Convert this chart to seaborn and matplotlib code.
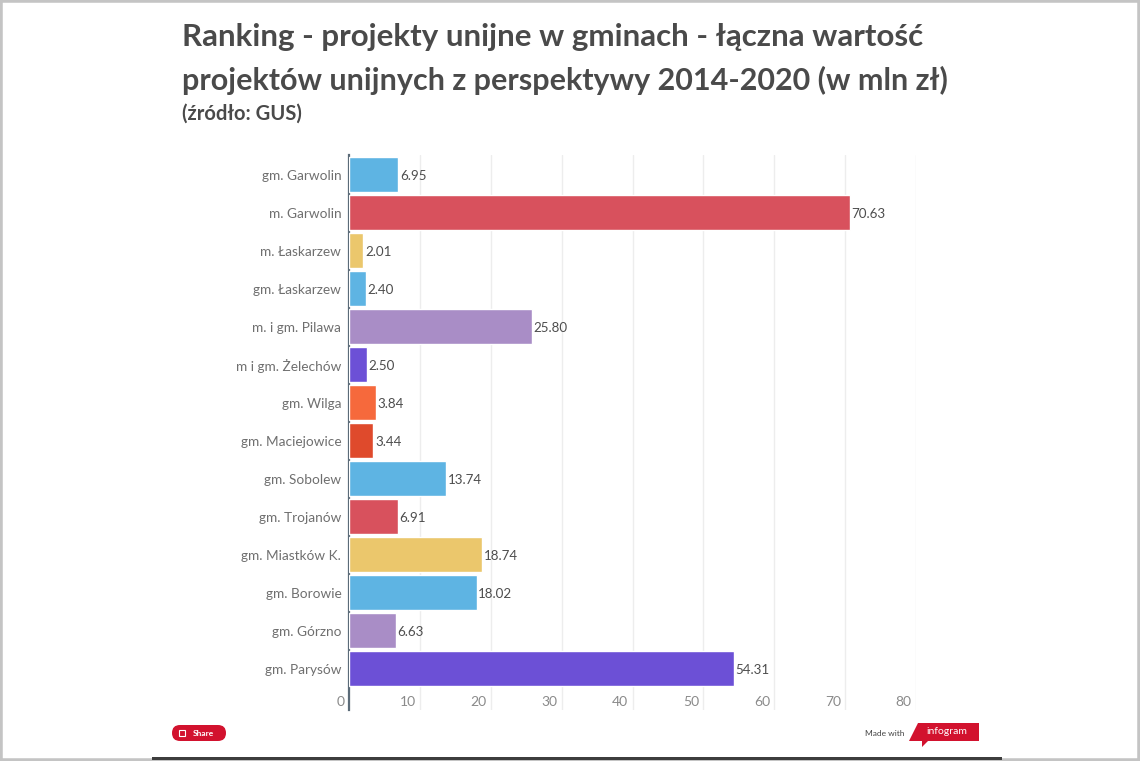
import matplotlib
matplotlib.use("Agg")
from matplotlib import pyplot as plt
from matplotlib.patches import FancyBboxPatch, Polygon, Rectangle
import seaborn as sns
import pandas as pd

gminy = [
    "gm. Garwolin", "m. Garwolin", "m. Łaskarzew", "gm. Łaskarzew",
    "m. i gm. Pilawa", "m i gm. Żelechów", "gm. Wilga", "gm. Maciejowice",
    "gm. Sobolew", "gm. Trojanów", "gm. Miastków K.", "gm. Borowie",
    "gm. Górzno", "gm. Parysów",
]
wartosci = [6.95, 70.63, 2.01, 2.40, 25.80, 2.50, 3.84, 3.44, 13.74, 6.91,
            18.74, 18.02, 6.63, 54.31]
kolory = [
    "#5eb4e3", "#d8515d", "#ebc76c", "#5eb4e3", "#a98dc6", "#6c50d6", "#f6693c",
    "#df4a2c", "#5eb4e3", "#d8515d", "#ebc76c", "#5eb4e3", "#a98dc6", "#6c50d6",
]
ticks = [0, 10, 20, 30, 40, 50, 60, 70, 80]

W, H = 1140, 761


def fx(px):
    return px / W


def fy(py):
    return 1 - py / H


sns.set_theme(style="white")
plt.rcParams["font.family"] = ["Lato", "DejaVu Sans"]

df = pd.DataFrame({"gmina": gminy, "wartosc": wartosci})

fig = plt.figure(figsize=(W / 100, H / 100), dpi=100, facecolor="white")
ax = fig.add_axes([fx(349), fy(710), fx(916 - 349), (710 - 155) / H])

sns.barplot(data=df, y="gmina", x="wartosc", hue="gmina", palette=kolory,
            order=gminy, hue_order=gminy, legend=False, width=35 / 38,
            saturation=1, ax=ax, zorder=3)

ax.set_xlim(0, 80)
ax.set_ylim(14.08, -0.526)
ax.set_xlabel("")
ax.set_ylabel("")
ax.set_xticks(ticks)
ax.set_xticklabels([])
ax.tick_params(axis="both", length=0)
ax.tick_params(axis="y", labelsize=9.8, labelcolor="#6f6f6f", pad=5.5)
ax.grid(axis="x", color="#ededed", linewidth=1, zorder=0)
ax.grid(axis="y", visible=False)
ax.set_axisbelow(True)
for name in ["top", "right", "bottom"]:
    ax.spines[name].set_visible(False)
ax.spines["left"].set_color("#5b6b78")
ax.spines["left"].set_linewidth(1.6)

# wartosci przy slupkach
for i, v in enumerate(wartosci):
    ax.annotate(f"{v:.2f}", (v, i), xytext=(1.2, -0.5), textcoords="offset points",
                va="center", ha="left", fontsize=9.6, color="#4d4d4d")

# opisy osi x na lewo od linii siatki
for t in ticks:
    ax.annotate(str(t), (t, 14.08), xytext=(-3, 5.5), textcoords="offset points",
                va="center", ha="right", fontsize=10, color="#8a8a8a")

# tytul
fig.text(fx(182), fy(37), "Ranking - projekty unijne w gminach - łączna wartość",
         fontsize=22.5, fontweight="bold", color="#4a4a4a", va="center")
fig.text(fx(182), fy(80), "projektów unijnych z perspektywy 2014-2020 (w mln zł)",
         fontsize=22, fontweight="bold", color="#4a4a4a", va="center")
fig.text(fx(182), fy(114), "(źródło: GUS)", fontsize=14.5, fontweight="bold",
         color="#4a4a4a", va="center")

# ramka zrzutu ekranu i dolna linia
fig.add_artist(Rectangle((0, 0), 1, 1, transform=fig.transFigure, fill=False,
                         edgecolor="#c4c4c4", linewidth=4))
fig.add_artist(Rectangle((fx(152), fy(760)), fx(850), 3 / H, transform=fig.transFigure,
                         facecolor="#3d3d3d", edgecolor="none"))

# przycisk Share
fig.add_artist(FancyBboxPatch((172, H - 741), 54, 16, boxstyle="round,pad=0,rounding_size=8",
                              transform=None, facecolor="#d2122e", edgecolor="none"))
fig.text(fx(203), fy(733), "Share", fontsize=6, fontweight="bold", color="white",
         ha="center", va="center")
fig.add_artist(Rectangle((fx(179), fy(736)), 6 / W, 6 / H, transform=fig.transFigure,
                         fill=False, edgecolor="white", linewidth=0.8))

# logo infogram
fig.text(fx(885), fy(733), "Made with", fontsize=6, color="#444444", ha="center", va="center")
fig.add_artist(Polygon([(fx(918), fy(723)), (fx(979), fy(723)), (fx(979), fy(741)),
                        (fx(928), fy(741)), (fx(922), fy(747)), (fx(922), fy(741)),
                        (fx(909), fy(741))],
                       closed=True, transform=fig.transFigure, facecolor="#d2122e",
                       edgecolor="none"))
fig.text(fx(947), fy(732), "infogram", fontsize=7.5, color="white", ha="center", va="center")

fig.savefig("out.png", dpi=100)
